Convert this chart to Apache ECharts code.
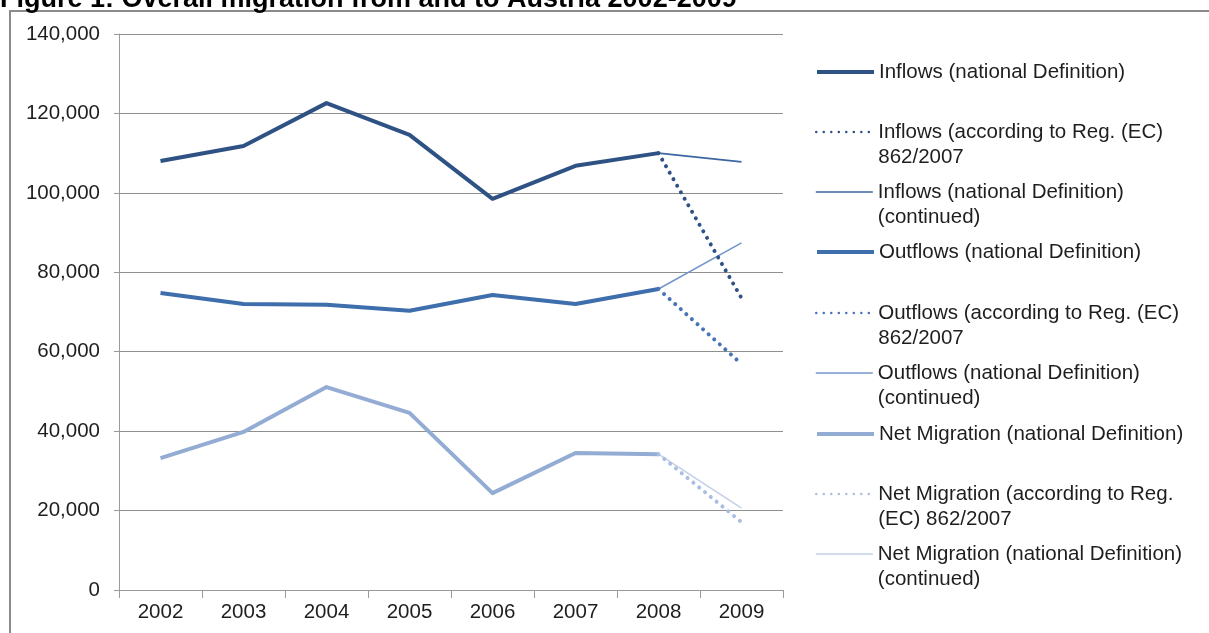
<!DOCTYPE html>
<html>
<head>
<meta charset="utf-8">
<style>
  html, body { margin: 0; padding: 0; background: #fff; }
  #chart { width: 1209px; height: 633px; }
</style>
<script src="https://cdn.jsdelivr.net/npm/echarts@6/dist/echarts.min.js"></script>
</head>
<body>
<div id="chart"></div>
<script>
// Overall migration from and to Austria, 2002-2009
const years = ['2002', '2003', '2004', '2005', '2006', '2007', '2008', '2009'];

// national definition, 2002-2008
const inflowsNat  = [108000, 111800, 122600, 114600, 98500, 106800, 110000, null];
const outflowsNat = [74800, 72000, 71800, 70300, 74300, 72000, 75800, null];
const netNat      = [33200, 39800, 51100, 44600, 24400, 34500, 34200, null];

// according to Reg. (EC) 862/2007, from 2008
const inflowsEC  = [null, null, null, null, null, null, 110000, 73500];
const outflowsEC = [null, null, null, null, null, null, 75800, 56900];
const netEC      = [null, null, null, null, null, null, 34200, 17100];

// national definition (continued), from 2008
const inflowsCont  = [null, null, null, null, null, null, 110000, 107800];
const outflowsCont = [null, null, null, null, null, null, 75800, 87400];
const netCont      = [null, null, null, null, null, null, 34200, 20600];

const yTicks = [0, 20000, 40000, 60000, 80000, 100000, 120000, 140000];

const names = [
  'Inflows (national Definition)',
  'Inflows (according to Reg. (EC)\n862/2007',
  'Inflows (national Definition)\n(continued)',
  'Outflows (national Definition)',
  'Outflows (according to Reg. (EC)\n862/2007',
  'Outflows (national Definition)\n(continued)',
  'Net Migration (national Definition)',
  'Net Migration (according to Reg.\n(EC) 862/2007',
  'Net Migration (national Definition)\n(continued)'
];

const FONT = '"Liberation Sans", Arial, sans-serif';
const dotted = [0.01, 7.5];

function line(name, data, color, width, type) {
  return {
    name: name,
    type: 'line',
    data: data,
    symbol: 'none',
    connectNulls: false,
    silent: true,
    lineStyle: { color: color, width: width, type: type || 'solid', cap: type ? 'round' : 'butt', join: 'round' },
    itemStyle: { color: color },
    z: type ? 3 : 2
  };
}

const series = [
  line(names[0], inflowsNat, '#2f5284', 4),
  line(names[1], inflowsEC, '#2f5284', 4, dotted),
  line(names[2], inflowsCont, '#3d66a3', 1.6),
  line(names[3], outflowsNat, '#3e6eac', 4),
  line(names[4], outflowsEC, '#4674b6', 4, dotted),
  line(names[5], outflowsCont, '#7496cb', 1.6),
  line(names[6], netNat, '#93acd3', 4),
  line(names[7], netEC, '#a9bee0', 4, dotted),
  line(names[8], netCont, '#c3d0e8', 1.6)
];

// one legend block per entry, evenly stacked on the right;
// the icon sits on the first text line of each entry
const legendCenters = [72, 132, 192, 252, 313, 373, 434, 494, 554];
const LH = 25;
const legends = names.map(function (n, i) {
  const twoLines = n.indexOf('\n') >= 0;
  const s = series[i];
  const dottedIcon = Array.isArray(s.lineStyle.type);
  return {
    data: [n],
    left: 815,
    top: legendCenters[i] - 37.5,
    orient: 'vertical',
    itemWidth: 57,
    itemHeight: 14,
    selectedMode: false,
    padding: 0,
    formatter: twoLines ? function (name) { return '\n' + name; } : undefined,
    itemStyle: { opacity: 0 },
    lineStyle: {
      width: dottedIcon ? 2.5 : s.lineStyle.width,
      type: s.lineStyle.type,
      cap: s.lineStyle.cap
    },
    textStyle: {
      fontFamily: FONT,
      fontSize: 20.5,
      color: '#1e1e1e',
      lineHeight: LH,
      padding: twoLines ? 0 : [LH, 0, LH, 0]
    }
  };
});

const chart = echarts.init(document.getElementById('chart'), null, { renderer: 'canvas' });
chart.setOption({
  animation: false,
  backgroundColor: '#ffffff',
  graphic: [
    {
      type: 'text', x: 0, y: 13, silent: true,
      style: {
        text: 'Figure 1: Overall migration from and to Austria 2002-2009',
        font: 'bold 27px ' + FONT,
        fill: '#000',
        verticalAlign: 'bottom'
      }
    },
    {
      type: 'rect', silent: true,
      shape: { x: 10, y: 11, width: 1300, height: 700 },
      style: { fill: '#ffffff', stroke: '#8a8a8a', lineWidth: 2 },
      z: -1
    }
  ],
  legend: legends,
  grid: { left: 119, right: 426, top: 34, bottom: 43, containLabel: false },
  xAxis: {
    type: 'category',
    data: years,
    boundaryGap: true,
    axisLine: { show: true, lineStyle: { color: '#9a9a9a', width: 1 } },
    axisTick: { show: true, length: 8, alignWithLabel: false, lineStyle: { color: '#9a9a9a' } },
    axisLabel: { fontFamily: FONT, fontSize: 20.5, color: '#1e1e1e', margin: 12 },
    splitLine: { show: false }
  },
  yAxis: {
    type: 'value',
    min: yTicks[0],
    max: yTicks[yTicks.length - 1],
    interval: yTicks[1] - yTicks[0],
    axisLine: { show: true, lineStyle: { color: '#9a9a9a', width: 1 } },
    axisTick: { show: true, length: 5, lineStyle: { color: '#9a9a9a' } },
    axisLabel: {
      fontFamily: FONT, fontSize: 20.5, color: '#1e1e1e', margin: 19,
      formatter: function (v) { return v.toLocaleString('en-US'); }
    },
    splitLine: { show: true, lineStyle: { color: '#8f8f8f', width: 1 } }
  },
  series: series
});
</script>
</body>
</html>
